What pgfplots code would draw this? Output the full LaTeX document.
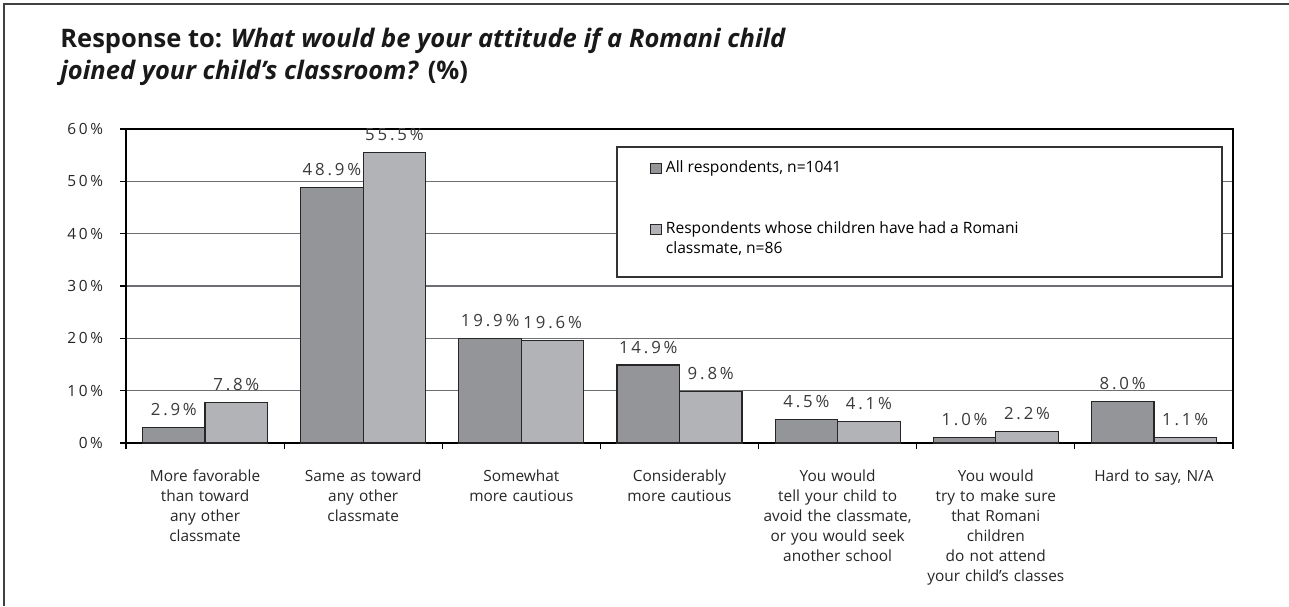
\documentclass[border=0pt]{standalone}
\usepackage{fontspec}
\setmainfont{Open Sans}
\newfontfamily\valfont[LetterSpace=17]{Open Sans}
\usepackage{pgfplots}
\usepackage{pgfplotstable}
\pgfplotsset{compat=1.18}

\definecolor{darkbar}{HTML}{939598}
\definecolor{lightbar}{HTML}{B1B3B6}
\definecolor{gridgray}{HTML}{6D6E71}
\definecolor{valtext}{HTML}{3A3A3A}

% x = category index, all = all respondents, roma = had a Romani classmate
\pgfplotstableread{
x all roma
0 2.9 7.8
1 48.9 55.5
2 19.9 19.6
3 14.9 9.8
4 4.5 4.1
5 1.0 2.2
6 8.0 1.1
}\attitude

\begin{document}
\begin{tikzpicture}
\useasboundingbox (-63pt,-81.5pt) rectangle (581.5pt,221.5pt);
% outer frame (top and left only)
\draw[line width=1.1pt, black!75] (-61pt,-81.5pt) -- (-61pt,219.5pt) -- (581.5pt,219.5pt);

% base anchor of a two-line node = baseline of the second line
\node[anchor=base west, align=left, inner sep=0pt, text=black!90,
  font=\fontsize{12.75}{16}\selectfont\bfseries]
  at (-33pt,181.5pt)
  {Response to: \textit{What would be your attitude if a Romani child}\\
   \textit{joined your child's classroom?} (\%)};

\begin{axis}[
  at={(0,0)}, anchor=south west,
  scale only axis, width=553.5pt, height=157pt,
  xmin=-0.5, xmax=6.5, ymin=0, ymax=60,
  ybar=0pt, bar width=31.25pt,
  axis line style={black, line width=0.6pt},
  xtick={-0.5,0.5,...,6.5},
  x tick label as interval,
  xticklabels={
    {More favorable\\than toward\\any other\\classmate},
    {Same as toward\\any other\\classmate},
    {Somewhat\\more cautious},
    {Considerably\\more cautious},
    {You would\\tell your child to\\avoid the classmate,\\or you would seek\\another school},
    {You would\\try to make sure\\that Romani\\children\\do not attend\\your child’s classes},
    {Hard to say, N/A}},
  xticklabel style={align=center, text width=78pt, anchor=north, yshift=-7pt,
    font=\fontsize{7.7}{10}\selectfont, text=black!85},
  ytick={0,10,...,60},
  yticklabels={0\,\%,10\,\%,20\,\%,30\,\%,40\,\%,50\,\%,60\,\%},
  yticklabel style={font=\valfont\fontsize{7.7}{9}\selectfont, text=black!85, xshift=-5pt},
  xtick pos=bottom, ytick pos=left,
  tick align=outside, major tick length=3pt,
  tick style={black, line width=0.6pt},
  ymajorgrids, grid style={gridgray, line width=0.8pt},
  nodes near coords={\pgfmathprintnumber[fixed,fixed zerofill,precision=1,assume math mode=true]{\pgfplotspointmeta}\,\%},
  every node near coord/.append style={font=\valfont\fontsize{8.4}{9}\selectfont, text=valtext, yshift=2.2pt},
  legend style={draw=none, fill=none, at={(0.468,0.925)}, anchor=north west,
    font=\fontsize{7.8}{10}\selectfont, row sep=19pt,
    cells={anchor=west, align=left}},
  legend cell align=left,
  clip=false,
]
\addplot[fill=darkbar, draw=black!85, line width=0.6pt,
  legend image code/.code={\draw[fill=darkbar, draw=black!85, line width=0.5pt] (0pt,-2.6pt) rectangle (5.2pt,2.6pt);}]
  table[x=x, y=all] {\attitude};
\addlegendentry{All respondents, n=1041}
\addplot[fill=lightbar, draw=black!85, line width=0.6pt,
  legend image code/.code={\draw[fill=lightbar, draw=black!85, line width=0.5pt] (0pt,2.4pt) rectangle (5.2pt,7.6pt);}]
  table[x=x, y=roma] {\attitude};
\addlegendentry{Respondents whose children have had a Romani\\classmate, n=86}

\draw[black!80, line width=0.6pt, fill=white] (rel axis cs:0.4435,0.9427) rectangle (rel axis cs:0.9901,0.5287);
\draw[black, line width=1.4pt] (rel axis cs:0,0) -- (rel axis cs:0,1);
\end{axis}
\end{tikzpicture}
\end{document}
